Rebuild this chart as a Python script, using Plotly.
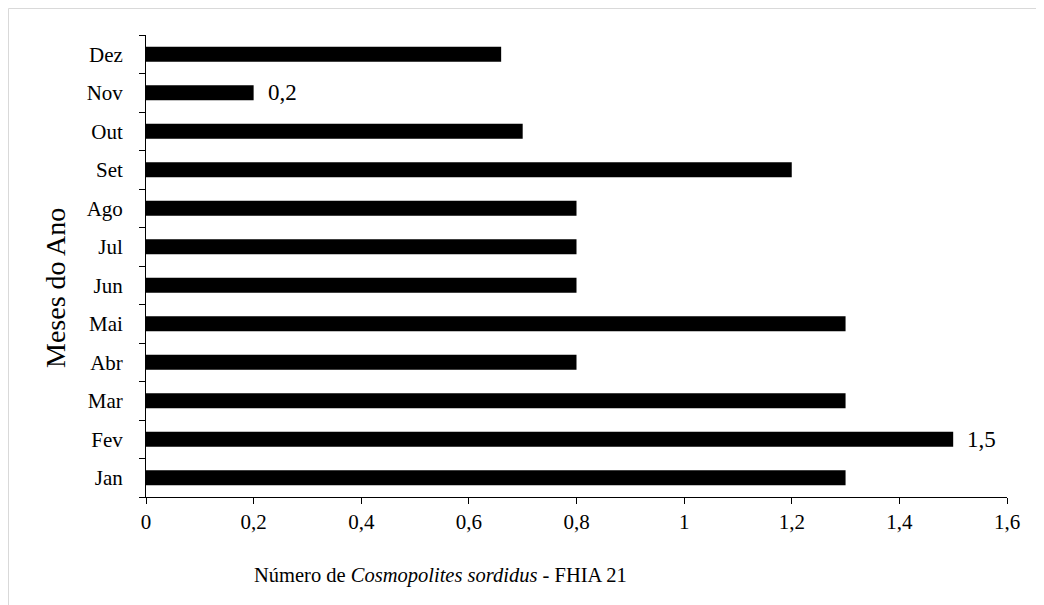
import plotly.graph_objects as go

months = ["Jan", "Fev", "Mar", "Abr", "Mai", "Jun", "Jul", "Ago", "Set", "Out", "Nov", "Dez"]
values = [1.3, 1.5, 1.3, 0.8, 1.3, 0.8, 0.8, 0.8, 1.2, 0.7, 0.2, 0.66]
labels = ["", "1,5", "", "", "", "", "", "", "", "", "0,2", ""]
x_ticks = [0, 0.2, 0.4, 0.6, 0.8, 1.0, 1.2, 1.4, 1.6]
x_ticklabels = ["0", "0,2", "0,4", "0,6", "0,8", "1", "1,2", "1,4", "1,6"]
x_title = "Número de <i>Cosmopolites sordidus</i> - FHIA 21"
y_title = "Meses do Ano"

font_family = "Liberation Serif, Times New Roman, serif"

fig = go.Figure()
fig.add_trace(go.Bar(
    x=values, y=months, orientation="h",
    marker=dict(color="black", line=dict(width=0)),
    hoverinfo="x+y",
))

annotations = []
for m, v, t in zip(months, values, labels):
    if t:
        annotations.append(dict(x=v, y=m, xref="x", yref="y", text=t, showarrow=False,
                                xanchor="left", xshift=12,
                                font=dict(size=23, color="black", family=font_family)))

# axis titles (placed as in the reference, off-centre)
annotations.append(dict(x=(440 - 146) / 861, y=(489 - 567) / 462, xref="paper", yref="paper",
                        text=x_title, showarrow=False, xanchor="center", yanchor="middle",
                        font=dict(size=20.5, color="black", family=font_family)))
annotations.append(dict(x=(55 - 146) / 861, y=(497 - 288) / 462, xref="paper", yref="paper",
                        text=y_title, showarrow=False, textangle=-90,
                        xanchor="center", yanchor="middle",
                        font=dict(size=28, color="black", family=font_family)))

fig.update_layout(
    width=1044, height=605,
    margin=dict(l=138, r=45, t=27, b=116, autoexpand=False),
    plot_bgcolor="white", paper_bgcolor="white",
    bargap=0.61,
    showlegend=False,
    font=dict(family=font_family, color="black", size=21),
    separators=", ",
    annotations=annotations,
    shapes=[dict(type="rect", xref="paper", yref="paper",
                 x0=-137.5 / 861, x1=1.08, y0=-0.3, y1=(462 + 26.5) / 462,
                 line=dict(color="#d9d9d9", width=1), fillcolor="rgba(0,0,0,0)", layer="below")],
)

fig.update_xaxes(
    range=[0, 1.6], tickvals=x_ticks, ticktext=x_ticklabels,
    showgrid=False, zeroline=False, automargin=False,
    showline=True, linecolor="black", linewidth=1,
    ticks="outside", ticklen=6, tickcolor="black",
    tickfont=dict(size=21, family=font_family),
)
fig.update_yaxes(
    categoryorder="array", categoryarray=months,
    range=[-0.5, 11.5],
    showgrid=False, zeroline=False, automargin=False,
    showline=True, linecolor="black", linewidth=1,
    ticks="outside", ticklen=6, tickcolor="black", tickson="boundaries",
    ticklabelstandoff=18,
    tickfont=dict(size=21, family=font_family),
)

fig.write_html("out.html")
